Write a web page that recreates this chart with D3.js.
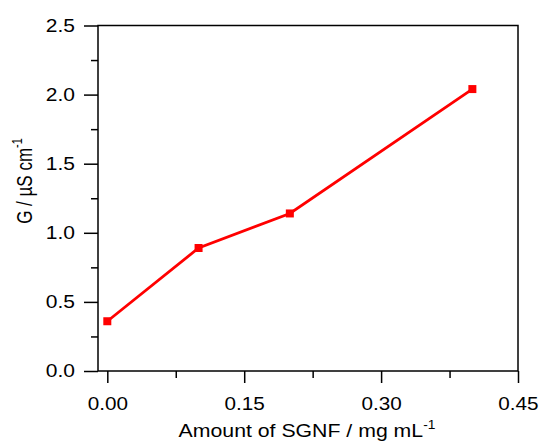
<!DOCTYPE html>
<html>
<head>
<meta charset="utf-8">
<script src="https://cdn.jsdelivr.net/npm/d3@7"></script>
<style>
  body { margin: 0; background: #fff; }
  text { font-family: "Liberation Sans", Arial, sans-serif; }
</style>
</head>
<body>
<div id="chart"></div>
<script>
const amounts = [0, 0.1, 0.2, 0.4];
const conductance = [0.36, 0.89, 1.14, 2.04];
const xTicks = [0, 0.15, 0.30, 0.45];
const xMinorTicks = [0.075, 0.225, 0.375];
const yTicks = [0, 0.5, 1.0, 1.5, 2.0, 2.5];
const yMinorTicks = [0.25, 0.75, 1.25, 1.75, 2.25];

const width = 544, height = 445;
const margin = { top: 25.5, right: 26, bottom: 74, left: 98 };
const innerW = width - margin.left - margin.right;
const innerH = height - margin.top - margin.bottom;
// the original export is a little stretched sideways, so text is widened
const sx = 1.15;

const svg = d3.select("#chart").append("svg")
    .attr("width", width)
    .attr("height", height);

const g = svg.append("g")
    .attr("transform", `translate(${margin.left},${margin.top})`);

const x = d3.scaleLinear().domain([-0.0102, 0.45]).range([0, innerW]);
const y = d3.scaleLinear().domain([0, 2.5]).range([innerH, 0]);

// frame
g.append("rect")
    .attr("width", innerW).attr("height", innerH)
    .attr("fill", "none").attr("stroke", "#000").attr("stroke-width", 1.5);

// x axis
const xAxis = g.append("g")
    .attr("transform", `translate(0,${innerH})`)
    .call(d3.axisBottom(x).tickValues(xTicks).tickFormat(d3.format(".2f")).tickSize(12).tickSizeOuter(0));
xAxis.append("g")
    .call(d3.axisBottom(x).tickValues(xMinorTicks).tickFormat("").tickSize(7).tickSizeOuter(0));
xAxis.selectAll(".domain").remove();
xAxis.selectAll("line").attr("stroke", "#000").attr("stroke-width", 1.5);
xAxis.selectAll("text")
    .attr("font-size", 18).attr("fill", "#000")
    .attr("y", 39).attr("dy", 0)
    .attr("transform", `scale(${sx},1)`);

// y axis
const yAxis = g.append("g")
    .call(d3.axisLeft(y).tickValues(yTicks).tickFormat(d3.format(".1f")).tickSize(14).tickSizeOuter(0));
yAxis.append("g")
    .call(d3.axisLeft(y).tickValues(yMinorTicks).tickFormat("").tickSize(7).tickSizeOuter(0));
yAxis.selectAll(".domain").remove();
yAxis.selectAll("line").attr("stroke", "#000").attr("stroke-width", 1.5);
yAxis.selectAll("text")
    .attr("font-size", 17.5).attr("fill", "#000")
    .attr("x", -23 / 1.2)
    .attr("transform", "scale(1.2,1)");

// data
const points = amounts.map((a, i) => ({ a, v: conductance[i] }));

g.append("path")
    .datum(points)
    .attr("fill", "none")
    .attr("stroke", "#ff0000")
    .attr("stroke-width", 2.8)
    .attr("d", d3.line().x(d => x(d.a)).y(d => y(d.v)));

g.selectAll(".pt")
    .data(points)
    .enter().append("rect")
    .attr("class", "pt")
    .attr("x", d => x(d.a) - 4)
    .attr("y", d => y(d.v) - 4)
    .attr("width", 8)
    .attr("height", 8)
    .attr("fill", "#ff0000");

// axis titles
const xTitle = svg.append("text")
    .attr("transform", `translate(307,437) scale(${sx},1)`)
    .attr("text-anchor", "middle")
    .attr("font-size", 18.5);
xTitle.append("tspan").text("Amount of SGNF / mg mL");
xTitle.append("tspan").attr("dy", -8).attr("font-size", 12).text("-1");

const yTitle = svg.append("text")
    .attr("transform", "translate(32,181) scale(1.25,1) rotate(-90)")
    .attr("text-anchor", "middle")
    .attr("font-size", 17);
yTitle.append("tspan").text("G / µS cm");
yTitle.append("tspan").attr("dy", -8).attr("font-size", 11).text("-1");
</script>
</body>
</html>
